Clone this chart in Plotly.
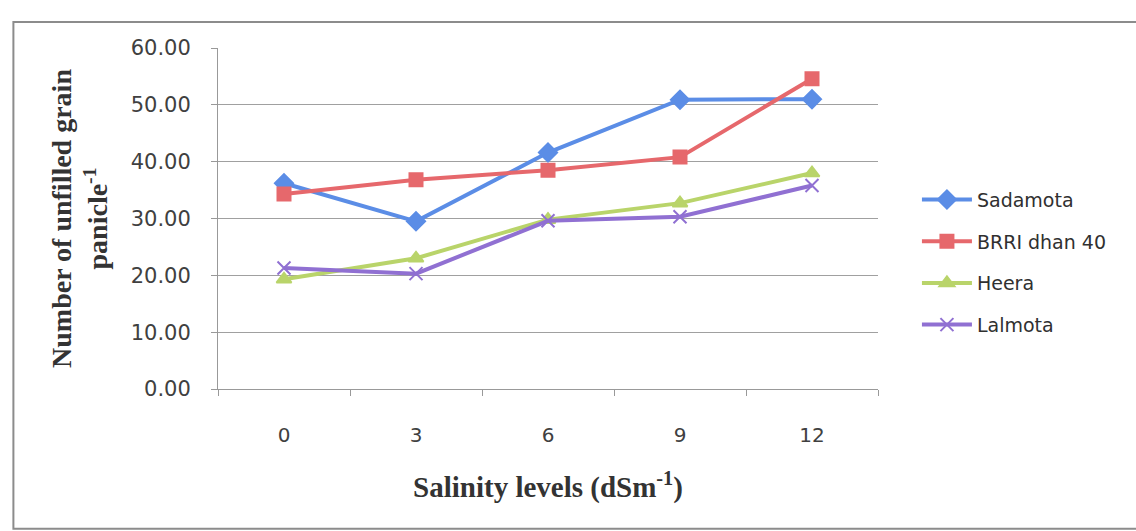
import plotly.graph_objects as go

salinity = ["0", "3", "6", "9", "12"]
sadamota = [36.2, 29.5, 41.6, 50.9, 51.0]
brri_dhan40 = [34.3, 36.8, 38.5, 40.8, 54.6]
heera = [19.3, 23.0, 29.8, 32.7, 38.0]
lalmota = [21.3, 20.3, 29.6, 30.3, 35.8]

series = [
    ("Sadamota", sadamota, "#5B8DE6", "diamond", 14),
    ("BRRI dhan 40", brri_dhan40, "#E6686C", "square", 13),
    ("Heera", heera, "#B9D46A", "triangle-up", 13),
    ("Lalmota", lalmota, "#9070D2", "x-thin", 13),
]

fig = go.Figure()
for i, (name, vals, color, sym, size) in enumerate(series):
    fig.add_trace(go.Scatter(
        x=salinity, y=vals, name=name, mode="lines+markers",
        legendgroup="g%d" % i,
        line=dict(color=color, width=4),
        marker=dict(symbol=sym, size=size, color=color,
                    line=dict(color=color, width=2)),
    ))

serif = "'Liberation Serif', 'Times New Roman', serif"
fig.update_layout(
    width=1136, height=531,
    margin=dict(l=218, r=258, t=48, b=142),
    paper_bgcolor="white", plot_bgcolor="white",
    font=dict(family="'DejaVu Sans', sans-serif", size=20, color="#404040"),
    showlegend=True,
    legend=dict(x=1.059, y=0.372, xanchor="left", yanchor="middle",
                font=dict(size=19, color="#303030"),
                itemwidth=50, tracegroupgap=14, bgcolor="rgba(0,0,0,0)"),
    xaxis=dict(
        type="category", tickson="boundaries", ticks="outside", ticklen=6,
        tickcolor="#999999", showline=True, linecolor="#999999", linewidth=1,
        showgrid=False, ticklabelstandoff=28,
        tickfont=dict(size=20),
        title=dict(text="<b>Salinity levels (dSm<sup>-1</sup>)</b>",
                   font=dict(family=serif, size=29, color="#333333"),
                   standoff=30),
        range=[-0.5, 4.5],
    ),
    yaxis=dict(
        range=[0, 60], dtick=10, tickformat=".2f", ticks="outside", ticklen=6,
        tickcolor="#999999", showline=True, linecolor="#999999", linewidth=1,
        showgrid=True, gridcolor="#a0a0a0", gridwidth=1, zeroline=False,
        ticklabelstandoff=16,
        tickfont=dict(size=21),
        title=dict(text="<b>Number of unfilled grain<br>panicle<sup>-1</sup></b>",
                   font=dict(family=serif, size=28, color="#333333"),
                   standoff=14),
    ),
)

# outer chart frame
fig.add_shape(type="rect", xref="paper", yref="paper",
              x0=-0.31, x1=1.42, y0=-0.41, y1=1.076,
              line=dict(color="#8c8c8c", width=2), layer="below")

fig.write_html("out.html")
